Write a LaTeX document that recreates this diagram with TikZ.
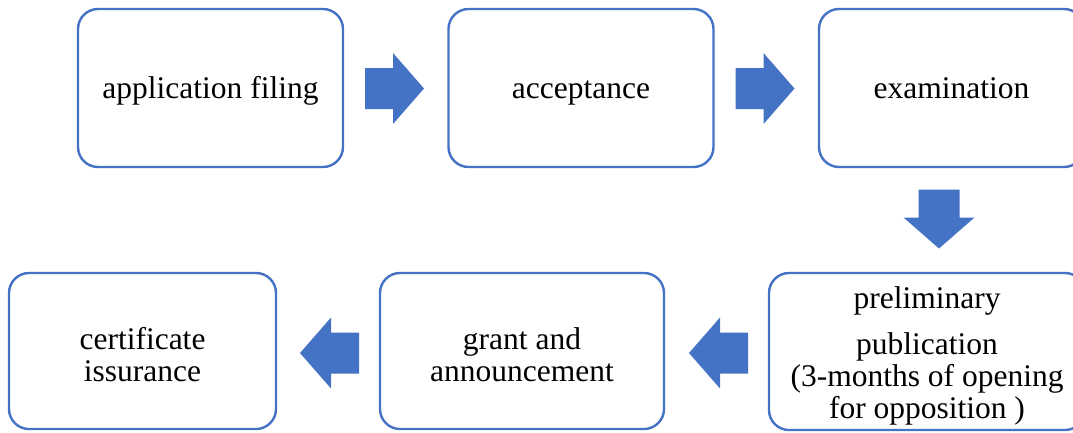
\documentclass[tikz,border=0pt]{standalone}
\usepackage{fontspec}
\setmainfont{Liberation Serif}
\definecolor{flowblue}{RGB}{68,114,196}
\tikzset{
  stagebox/.style={draw=flowblue, line width=2.4pt, rounded corners=20pt, fill=white,
    inner sep=0pt},
  stagetext/.style={align=center, inner sep=0pt, font=\fontsize{31.5}{32}\selectfont},
  oneline/.style={stagetext, text height=27pt, text depth=6pt},
  blockarrow/.pic={
    \fill[flowblue] (-29.5,-20.5) -- (-1.5,-20.5) -- (-1.5,-35.5) -- (29.5,0)
      -- (-1.5,35.5) -- (-1.5,20.5) -- (-29.5,20.5) -- cycle;
  }
}
\begin{document}
\begin{tikzpicture}[x=1pt,y=-1pt]
\useasboundingbox (0,0) rectangle (1073,432);
\clip (0,0) rectangle (1073,432);

% top row
\node[stagebox, minimum width=265pt, minimum height=158pt] (filing) at (210.5,88) {};
\node[stagebox, minimum width=265pt, minimum height=158pt] (accept) at (581,88) {};
\node[stagebox, minimum width=265pt, minimum height=158pt] (exam) at (951.5,88) {};
\node[oneline] (filing-t) at (filing.center) {application filing};
\node[oneline] (accept-t) at (accept.center) {acceptance};
\node[oneline] (exam-t) at (exam.center) {examination};

% bottom row
\node[stagebox, minimum width=267pt, minimum height=156pt] (cert) at (142.5,351) {};
\node[stagebox, minimum width=284pt, minimum height=156pt] (grant) at (522,351) {};
\node[stagebox, minimum width=316pt, minimum height=157pt] (prelim) at (927,351.5) {};
\node[stagetext] (cert-t) at ([yshift=-3.5pt]cert.center) {certificate\\issurance};
\node[stagetext] (grant-t) at ([yshift=-4pt]grant.center) {grant and\\announcement};
\node[stagetext] (prelim-t) at ([yshift=-4pt]prelim.center)
  {preliminary\\[14pt]publication\\(3-months of opening\\for opposition )};

% block arrows between stages
\pic at (394.5,88.5) {blockarrow};
\pic at (765,88.5) {blockarrow};
\pic[rotate=-90] at (939,219) {blockarrow};
\pic[rotate=180] at (718.5,353) {blockarrow};
\pic[rotate=180] at (329.5,353) {blockarrow};
\end{tikzpicture}
\end{document}
